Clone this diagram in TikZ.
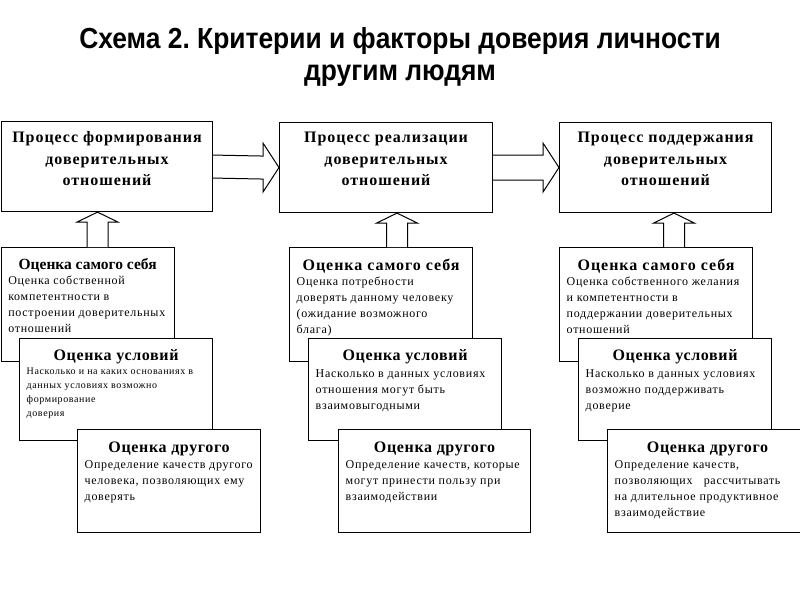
\documentclass[tikz,border=0pt]{standalone}
\usepackage{fontspec}
\setmainfont{Liberation Serif}
\newfontfamily\headfont{Liberation Sans}
\newfontfamily\boxfont{Liberation Serif}[LetterSpace=6]
\newfontfamily\wideboldfont{Liberation Serif}[LetterSpace=4]
\usetikzlibrary{calc}
\frenchspacing

\tikzset{
	procbox/.style={draw, line width=1.1pt, anchor=north west, inner sep=0pt, minimum height=90pt},
	proctext/.style={align=center, font=\boxfont\fontsize{16}{21.5}\selectfont\bfseries},
	evalbox/.style={draw, fill=white, line width=1.1pt, anchor=north west, inner sep=0pt},
	evaltitle/.style={inner sep=0pt, font=\wideboldfont\fontsize{16}{18}\selectfont\bfseries},
	evaltext/.style={anchor=north west, inner sep=0pt, align=left, font=\boxfont\fontsize{12}{16}\selectfont},
	blockarrow/.style={draw, line width=1pt, fill=white, line join=miter}
}

\begin{document}
\begin{tikzpicture}[x=1pt, y=-1pt]
	\useasboundingbox (0,0) rectangle (800,600);
	% title
	\node[align=center, font=\headfont\fontsize{29}{31.5}\selectfont\bfseries] (title) at (400,57)
		{\scalebox{0.91}[1]{Схема 2. Критерии и факторы доверия личности}\\\scalebox{0.91}[1]{другим людям}};

	% processes
	\node[procbox, minimum width=211pt] (procA) at (1,121) {};
	\node[procbox, minimum width=213pt] (procB) at (279,122) {};
	\node[procbox, minimum width=212pt] (procC) at (559,122) {};
	\node[proctext] at ($(procA.north)+(0,38)$) {Процесс формирования\\доверительных\\отношений};
	\node[proctext] at ($(procB.north)+(0,37)$) {Процесс реализации\\доверительных\\отношений};
	\node[proctext] at ($(procC.north)+(0,37)$) {Процесс поддержания\\доверительных\\отношений};

	\draw[blockarrow] ($(procA.east)+(0,-11.5)$) -- ($(procB.west)+(-16,-11.5)$) -- ($(procB.west)+(-16,-24.5)$)
		-- (procB.west) -- ($(procB.west)+(-16,24.5)$) -- ($(procB.west)+(-16,11.5)$) -- ($(procA.east)+(0,11.5)$);
	\draw[blockarrow] ($(procB.east)+(0,-12.5)$) -- ($(procC.west)+(-16,-12.5)$) -- ($(procC.west)+(-16,-24.5)$)
		-- (procC.west) -- ($(procC.west)+(-16,24.5)$) -- ($(procC.west)+(-16,12.5)$) -- ($(procB.east)+(0,12.5)$);

	% first column
	\node[evalbox, minimum width=173pt, minimum height=114pt] (selfA) at (0.6,247) {};
	\node[evaltitle, font=\fontsize{15.5}{17}\selectfont\bfseries] at ($(selfA.north)+(0,18)$) {Оценка самого себя};
	\node[evaltext] at ($(selfA.north west)+(7.5,29)$) {Оценка собственной\\компетентности в\\построении доверительных\\отношений};
	\node[evalbox, minimum width=193pt, minimum height=102pt] (condA) at (19,338) {};
	\node[evaltitle] at ($(condA.north)+(0,19)$) {Оценка условий};
	\node[evaltext, font=\boxfont\fontsize{10}{14}\selectfont] at ($(condA.north west)+(7.5,29.5)$) {Насколько и на каких основаниях в\\данных условиях возможно\\формирование\\доверия};
	\node[evalbox, minimum width=183pt, minimum height=103pt] (otherA) at (77,429) {};
	\node[evaltitle] at ($(otherA.north)+(0,19.5)$) {Оценка другого};
	\node[evaltext] at ($(otherA.north west)+(7.5,31.5)$) {Определение качеств другого\\человека, позволяющих ему\\доверять};

	% second column
	\node[evalbox, minimum width=183pt, minimum height=114pt] (selfB) at (289,247) {};
	\node[evaltitle, font=\boxfont\fontsize{16}{18}\selectfont\bfseries] at ($(selfB.north)+(0,19)$) {Оценка самого себя};
	\node[evaltext] at ($(selfB.north west)+(7.5,29.5)$) {Оценка потребности\\доверять данному человеку\\(ожидание возможного\\блага)};
	\node[evalbox, minimum width=193pt, minimum height=102pt] (condB) at (308,338) {};
	\node[evaltitle] at ($(condB.north)+(0,19)$) {Оценка условий};
	\node[evaltext] at ($(condB.north west)+(7.5,31.5)$) {Насколько в данных условиях\\отношения могут быть\\взаимовыгодными};
	\node[evalbox, minimum width=192pt, minimum height=103pt] (otherB) at (338,429) {};
	\node[evaltitle] at ($(otherB.north)+(0,19.5)$) {Оценка другого};
	\node[evaltext] at ($(otherB.north west)+(7.5,31.5)$) {Определение качеств, которые\\могут принести пользу при\\взаимодействии};

	% third column
	\node[evalbox, minimum width=193pt, minimum height=114pt] (selfC) at (559,247) {};
	\node[evaltitle, font=\boxfont\fontsize{16}{18}\selectfont\bfseries] at ($(selfC.north)+(0,19)$) {Оценка самого себя};
	\node[evaltext] at ($(selfC.north west)+(7.5,29.5)$) {Оценка собственного желания\\и компетентности в\\поддержании доверительных\\отношений};
	\node[evalbox, minimum width=193pt, minimum height=102pt] (condC) at (578,338) {};
	\node[evaltitle] at ($(condC.north)+(0,19)$) {Оценка условий};
	\node[evaltext] at ($(condC.north west)+(7.5,31.5)$) {Насколько в данных условиях\\возможно поддерживать\\доверие};
	\node[evalbox, minimum width=200pt, minimum height=103pt] (otherC) at (607,429) {};
	\node[evaltitle] at ($(otherC.north)+(0,19.5)$) {Оценка другого};
	\node[evaltext] at ($(otherC.north west)+(7.5,31.5)$) {Определение качеств,\\позволяющих~~~рассчитывать\\на длительное продуктивное\\взаимодействие};

	% arrows upwards
	\coordinate (upA) at (97.5,247);
	\coordinate (upB) at (397,247);
	\coordinate (upC) at (674,247);
	\foreach \u/\p in {upA/procA, upB/procB, upC/procC}
		\draw[blockarrow] ($(\u)+(-10.5,0)$) -- ($(\u |- \p.south)+(-10.5,10)$) -- ($(\u |- \p.south)+(-20.5,10)$)
			-- (\u |- \p.south) -- ($(\u |- \p.south)+(20.5,10)$) -- ($(\u |- \p.south)+(10.5,10)$) -- ($(\u)+(10.5,0)$);
\end{tikzpicture}
\end{document}
